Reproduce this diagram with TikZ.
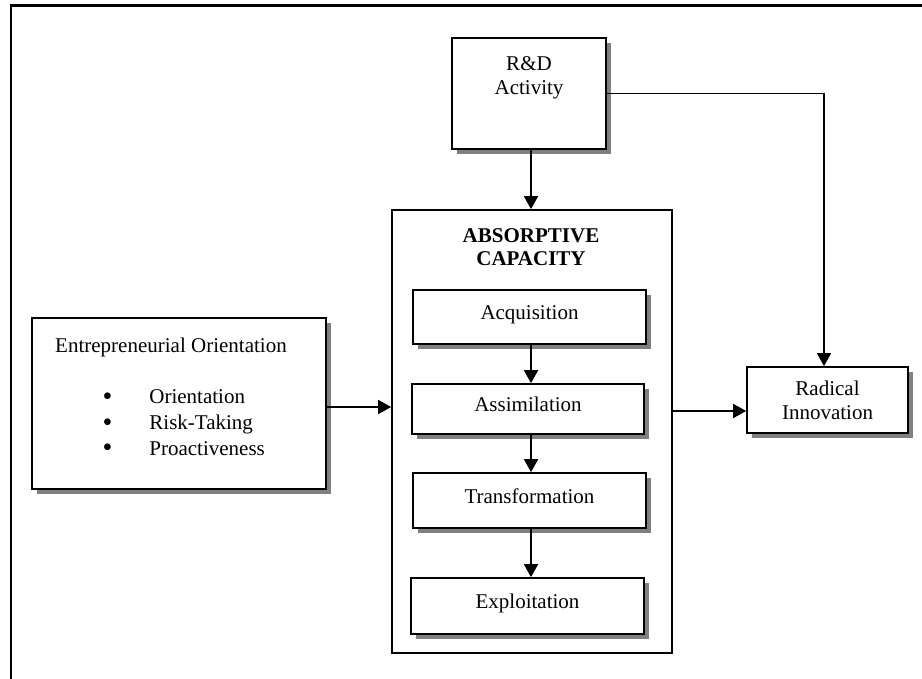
\documentclass[tikz,border=0pt]{standalone}
\usepackage{fontspec}
\setmainfont{Liberation Serif}
\usepackage{tikz}
\usetikzlibrary{arrows.meta,positioning,shadows,calc}

\newcommand{\eobullet}{\makebox[46.7pt][l]{\raisebox{-1.5pt}{\fontsize{28}{0}\selectfont\textbullet}}}

\begin{document}
\begin{tikzpicture}[
    x=1pt, y=-1pt,
    font=\fontsize{21}{24}\selectfont,
    plainbox/.style={rectangle, draw, line width=1.7pt, inner sep=0pt, fill=white},
    box/.style={plainbox, drop shadow={shadow xshift=5pt, shadow yshift=-5pt, fill=black!50, opacity=1}},
    stagebox/.style={box, minimum width=233pt, text height=14pt, text depth=8.5pt},
    arrow/.style={-{Triangle[length=13pt, width=14pt]}, line width=1.7pt}
]
\useasboundingbox (0,0) rectangle (922,679);

% outer frame
\draw[line width=2.2pt] (11,679) -- (11,5.5) -- (922,5.5);

% R&D
\node[box, minimum width=154pt, minimum height=111pt] (rd) at (529,93.5) {};
\node[anchor=north, align=center] (rdtext) at (529,52.8) {R\&D\\Activity};

% absorptive capacity
\node[plainbox, minimum width=280pt, minimum height=443pt] (abs) at (532,431.5) {};
\node[anchor=north, align=center, font=\fontsize{21}{23}\selectfont\bfseries] (abstext) at (531,225.5) {ABSORPTIVE\\CAPACITY};

\node[stagebox, minimum height=54pt] (acq) at (529.5,317) {Acquisition};
\node[stagebox, minimum width=232pt, minimum height=50pt] (asm) at (528,409) {Assimilation};
\node[stagebox, minimum height=55pt] (trf) at (529.5,500.5) {Transformation};
\node[stagebox, minimum height=56pt] (exp) at (527.5,606) {Exploitation};

% entrepreneurial orientation
\node[box, minimum width=294pt, minimum height=171pt] (eo) at (179,403.5) {};
\node[anchor=north west, align=left, font=\fontsize{21}{25.8}\selectfont] (eotext) at (51.7,334)
  {Entrepreneurial Orientation\\[25.8pt]
   \hspace*{47.5pt}\eobullet Orientation\\
   \hspace*{47.5pt}\eobullet Risk-Taking\\
   \hspace*{47.5pt}\eobullet Proactiveness};

% radical innovation
\node[box, minimum width=161pt, minimum height=66pt, align=center] (ri) at (827.5,400) {Radical\\Innovation};

% connectors
\draw[arrow] (rd.south -| 531,0) -- (abs.north -| 531,0);
\draw[arrow] (rd.east) -| ([xshift=-3.5pt]ri.north);
\draw[arrow] (acq.south -| 531,0) -- (asm.north -| 531,0);
\draw[arrow] (asm.south -| 531,0) -- (trf.north -| 531,0);
\draw[arrow] (trf.south -| 531,0) -- (exp.north -| 531,0);
\draw[arrow] (eo.east |- 0,407) -- (abs.west |- 0,407);
\draw[arrow] (abs.east |- 0,411) -- (ri.west |- 0,411);

\end{tikzpicture}
\end{document}
